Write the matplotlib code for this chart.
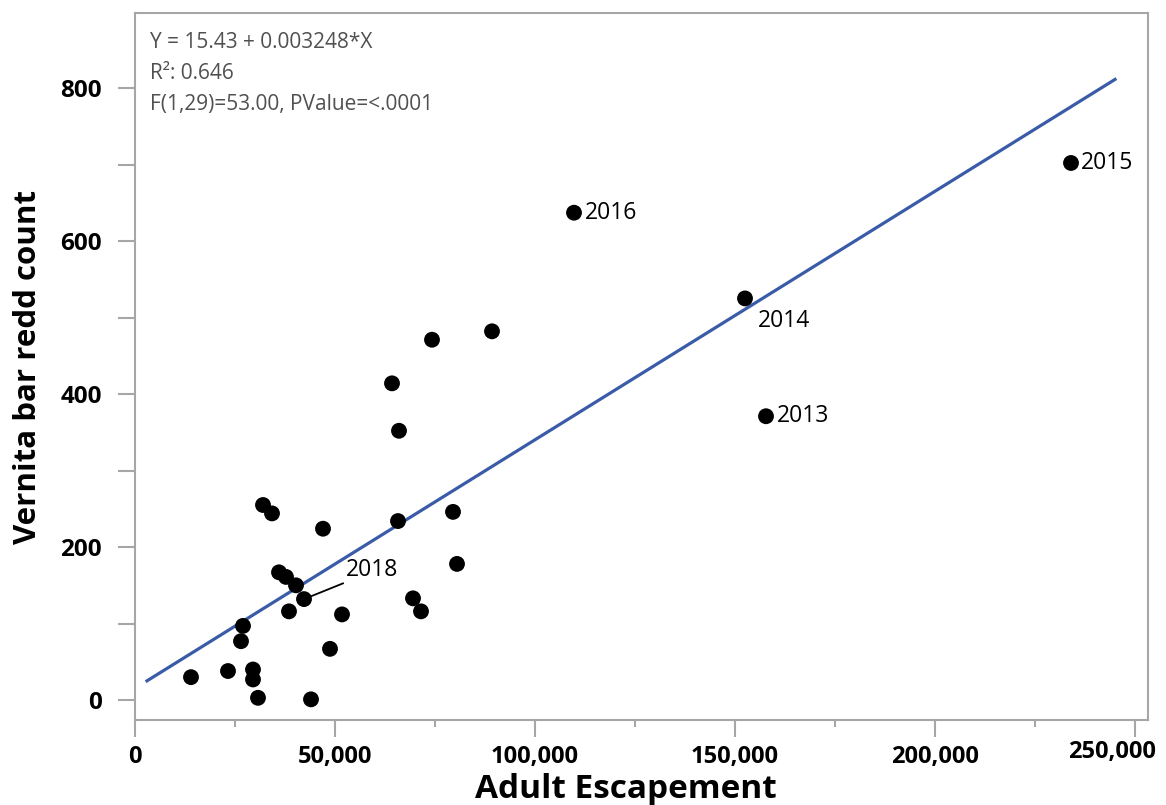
# Vernita Bar redd count vs adult escapement - scatter with regression line

import numpy as np
import matplotlib
matplotlib.use("Agg")
import matplotlib.pyplot as plt
from matplotlib.ticker import FuncFormatter, MultipleLocator

plt.rcParams["font.family"] = ["Open Sans", "DejaVu Sans"]

# 1. Data
escapement = [
    14000, 23250, 29500, 29500, 30750, 44000, 32000, 34250, 47000, 27000,
    26500, 36000, 37750, 40250, 42250, 38500, 48750, 51750, 65750, 79500,
    80500, 69500, 71500, 64250, 74250, 89250, 66000, 109750, 152500, 157750,
    234000,
]
redds = [
    30, 38, 40, 27, 3, 1, 255, 244, 224, 97,
    77, 167, 161, 150, 132, 116, 67, 112, 234, 246,
    178, 133, 116, 414, 471, 482, 352, 637, 525, 371,
    702,
]

# labelled years: (index into the arrays, label, offset in points)
year_labels = [
    (27, "2016", (8, 0)),
    (28, "2014", (9, -16)),
    (29, "2013", (8, 0)),
    (30, "2015", (7, 0)),
]
label_2018_idx = 14
label_2018_pos = (52750, 162)

# regression from the fit summary
intercept = 15.43
slope = 0.003248
fit_x = [3000, 245000]
fit_text = [
    "Y = 15.43 + 0.003248*X",
    "R\u00b2: 0.646",
    "F(1,29)=53.00, PValue=<.0001",
]

x_max_tick = 250000

# 2. Plot
fig = plt.figure(figsize=(11.66, 8.05), dpi=100)
ax = fig.add_axes([135 / 1166, 85 / 805, 1013 / 1166, 707 / 805])

fit_x = np.array(fit_x)
ax.plot(fit_x, intercept + slope * fit_x, color="#3a5ba8", linewidth=2.3, zorder=2)
ax.scatter(escapement, redds, s=130, color="black", edgecolors="none", zorder=3)

for idx, text, offset in year_labels:
    ax.annotate(text, (escapement[idx], redds[idx]), xytext=offset,
                textcoords="offset points", ha="left", va="center",
                fontsize=16.5, color="black", zorder=4)

ax.annotate("2018", (escapement[label_2018_idx], redds[label_2018_idx]),
            xytext=label_2018_pos, textcoords="data", ha="left", va="baseline",
            fontsize=16.5, color="black",
            arrowprops=dict(arrowstyle="-", color="black", lw=1.3,
                            shrinkA=0, shrinkB=4, relpos=(0, 0)))

for i, line in enumerate(fit_text):
    ax.text(0.0148, 0.958 - i * 0.0435, line, transform=ax.transAxes,
            ha="left", va="center", fontsize=15, color="#505050")

ax.set_xlim(0, 253250)
ax.set_ylim(-26, 898)

ax.xaxis.set_major_locator(MultipleLocator(50000))
ax.xaxis.set_minor_locator(MultipleLocator(25000))
ax.yaxis.set_major_locator(MultipleLocator(200))
ax.yaxis.set_minor_locator(MultipleLocator(100))
# the last label is drawn separately so it can be pulled inside the figure
ax.xaxis.set_major_formatter(
    FuncFormatter(lambda v, p: "" if v >= x_max_tick else f"{int(v):,}"))
ax.annotate(f"{x_max_tick:,}", xy=(x_max_tick, 0), xycoords=("data", "axes fraction"),
            xytext=(15, -14.5), textcoords="offset points", ha="right", va="top",
            fontsize=17, fontweight="bold", annotation_clip=False)

for spine in ax.spines.values():
    spine.set_color("#a6a6a6")
    spine.set_linewidth(1.5)

ax.tick_params(axis="x", which="major", length=12, width=1.5, color="#a6a6a6",
               labelsize=17, pad=6)
ax.tick_params(axis="x", which="minor", length=5, width=1.5, color="#a6a6a6")
ax.tick_params(axis="y", which="major", length=12, width=1.5, color="#a6a6a6",
               labelsize=17.5, pad=12)
ax.tick_params(axis="y", which="minor", length=12, width=1.5, color="#a6a6a6")
for lbl in ax.get_xticklabels() + ax.get_yticklabels():
    lbl.set_fontweight("bold")

ax.set_xlabel("Adult Escapement", fontsize=24, fontweight="bold")
ax.xaxis.set_label_coords(0.485, -0.075, transform=ax.transAxes)
ax.xaxis.label.set_va("top")
ax.set_ylabel("Vernita bar redd count", fontsize=22.5, fontweight="bold", labelpad=12)

fig.savefig("out.png", dpi=100)
